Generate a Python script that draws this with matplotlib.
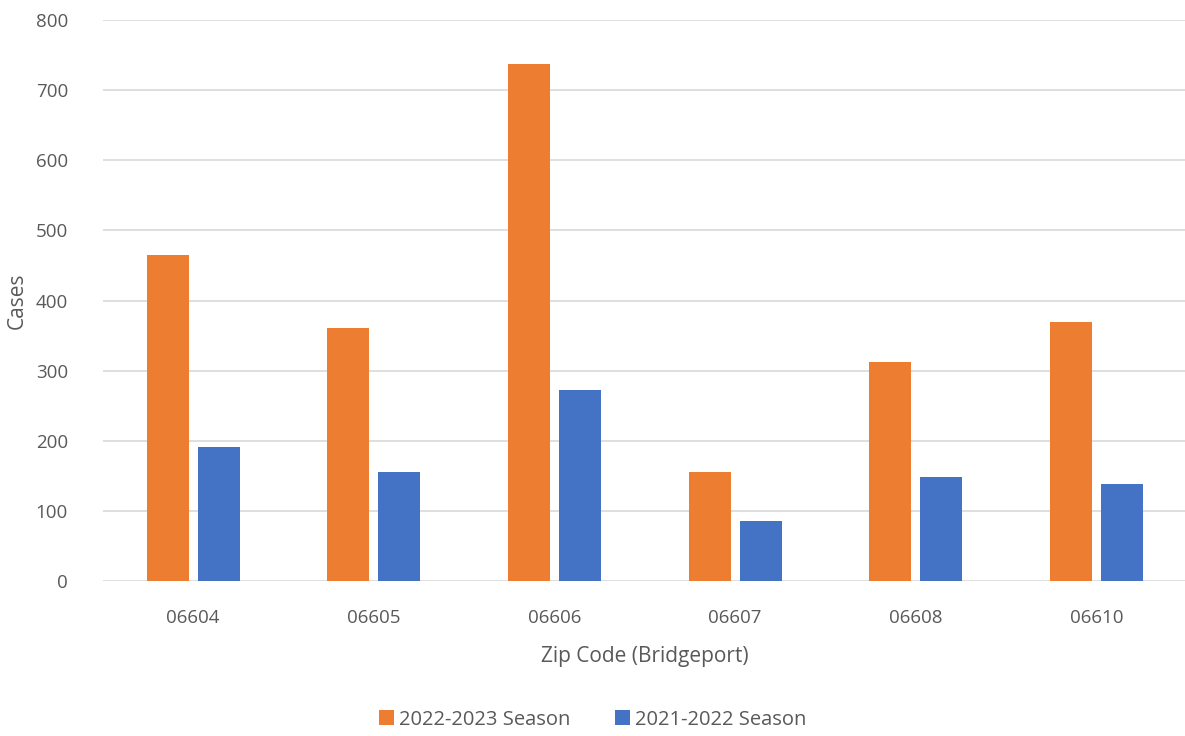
import numpy as np
import matplotlib.pyplot as plt

# Cases by Bridgeport zip code, two flu seasons
zip_codes = ["06604", "06605", "06606", "06607", "06608", "06610"]
season_2022_23 = [465, 361, 737, 156, 312, 369]
season_2021_22 = [191, 156, 272, 85, 148, 139]

plt.rcParams['font.family'] = ['Open Sans', 'DejaVu Sans']
text_color = '#595959'

fig = plt.figure(figsize=(11.85, 7.36), dpi=100)
ax = fig.add_axes([0.0867, 0.2106, 0.9148, 0.7622])

x = np.arange(len(zip_codes))
width = 0.232
offset = 0.141
ax.bar(x - offset, season_2022_23, width, color='#ED7D31', label='2022-2023 Season', zorder=3)
ax.bar(x + offset, season_2021_22, width, color='#4472C4', label='2021-2022 Season', zorder=3)

ax.set_xlim(-0.5, len(zip_codes) - 0.5)
ax.set_ylim(0, 800)
ax.set_yticks(np.arange(0, 801, 100))
ax.set_xticks(x)
ax.set_xticklabels(zip_codes)
ax.yaxis.grid(True, color='#D9D9D9', linewidth=1.2, zorder=0)
for side in ['top', 'right', 'left', 'bottom']:
    ax.spines[side].set_visible(False)
ax.tick_params(axis='both', length=0, labelsize=13.5, colors=text_color)
ax.tick_params(axis='x', pad=20)
ax.tick_params(axis='y', pad=25)

ax.set_xlabel('Zip Code (Bridgeport)', fontsize=15, color=text_color, labelpad=14)
ax.set_ylabel('Cases', fontsize=15, color=text_color, labelpad=6)

fig.legend(loc='lower center', bbox_to_anchor=(0.5, -0.016), ncol=2, frameon=False,
           fontsize=14.5, labelcolor=text_color, handlelength=0.75, handleheight=0.75,
           handletextpad=0.25, columnspacing=2.2)

fig.savefig('out.png', dpi=100)
